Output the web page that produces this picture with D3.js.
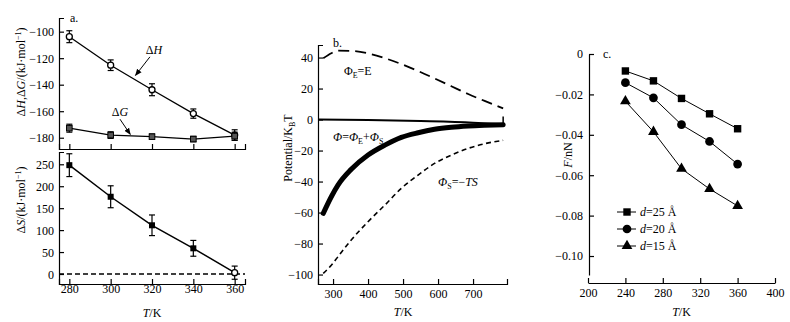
<!DOCTYPE html>
<html lang="en">
  <head>
    <meta charset="UTF-8" />
    <title>Thermodynamics panels</title>
    <style>
      body {
        margin: 0;
        padding: 0;
        background: #fff;
      }
      svg {
        display: block;
        font-family: 'Liberation Serif', 'Times New Roman', serif;
      }
      .axis path,
      .axis line {
        stroke: #000;
        stroke-width: 1.2;
      }
      .axis text {
        font-family: 'Liberation Serif', serif;
        font-size: 12px;
        fill: #000;
      }
      text {
        font-size: 12px;
        fill: #000;
      }
    </style>
  </head>

  <body>
    <script src="https://cdn.jsdelivr.net/npm/d3@7"></script>
    <script>
      // ---- panel a data ----
      const temps = [280, 300, 320, 340, 360];
      const dH = [-103.8, -125.3, -143.8, -161.8, -178];
      const dHErr = [4.5, 4, 4.5, 3.5, 4];
      const dG = [-172.8, -178, -179.2, -181, -178.8];
      const dGErr = [3, 2.5, 2, 2, 3];
      const dS = [248, 176, 111, 58.5, 3];
      const dSErr = [26, 25, 23.5, 18, 15];
      const aTopTicks = [-100, -120, -140, -160, -180];
      const aBotTicks = [0, 50, 100, 150, 200, 250];

      // ---- panel b data ----
      const phiT = [272, 295, 314, 352, 400, 448, 495, 543, 590, 638, 686, 733, 786];
      const phiE = [39.5, 42.8, 44.5, 44.3, 42.7, 39.6, 35.8, 31.3, 26.5, 21.5, 16.5, 12, 7.2];
      const phiTot = [-60.5, -49.8, -42.3, -32.1, -22.9, -16.5, -11.5, -8.5, -6.3, -5.0, -4.2, -3.7, -3.3];
      const phiS = [-99.2, -94, -88.5, -77.7, -65.9, -55.2, -44.4, -35.8, -28.3, -22.9, -18.6, -15.6, -13.4];
      const zeroT = [257, 400, 550, 700, 786];
      const zeroV = [0, -0.3, -1, -2, -3];
      const bYTicks = [40, 20, 0, -20, -40, -60, -80, -100];
      const bXTicks = [300, 400, 500, 600, 700];

      // ---- panel c data ----
      const cT = [240, 270, 300, 330, 360];
      const d25 = [-0.0084, -0.0133, -0.022, -0.0296, -0.037];
      const d20 = [-0.0142, -0.0217, -0.035, -0.0433, -0.0545];
      const d15 = [-0.0234, -0.0385, -0.0568, -0.0668, -0.0752];
      const cSeries = [
        { name: '25', values: d25, sym: d3.symbolSquare, size: 55 },
        { name: '20', values: d20, sym: d3.symbolCircle, size: 60 },
        { name: '15', values: d15, sym: d3.symbolTriangle, size: 50 },
      ];
      const cYTicks = [0, -0.02, -0.04, -0.06, -0.08, -0.1];
      const cXTicks = [200, 240, 280, 320, 360, 400];

      const width = 790;
      const height = 322;
      const svg = d3.select('body').append('svg').attr('width', width).attr('height', height);

      const tick = 5;

      // ================= panel a =================
      const ax = d3.scaleLinear().domain([275, 365]).range([59, 245]);
      const ayTop = d3.scaleLinear().domain([-188.5, -89.7]).range([149, 18]);
      const ayBot = d3.scaleLinear().domain([-22.8, 278]).range([284, 152]);

      svg.append('g').attr('class', 'axis').attr('transform', 'translate(0,149)')
        .call(d3.axisBottom(ax).tickValues(temps).tickSizeInner(-tick).tickSizeOuter(-tick).tickFormat(''));
      svg.append('g').attr('class', 'axis').attr('transform', 'translate(59,0)')
        .call(d3.axisLeft(ayTop).tickValues(aTopTicks).tickSizeInner(-tick).tickSizeOuter(-tick).tickPadding(5));
      svg.append('g').attr('class', 'axis').attr('transform', 'translate(0,284)')
        .call(d3.axisBottom(ax).tickValues(temps).tickSizeInner(-tick).tickSizeOuter(-tick).tickPadding(5));
      svg.append('g').attr('class', 'axis').attr('transform', 'translate(59,0)')
        .call(d3.axisLeft(ayBot).tickValues(aBotTicks).tickSizeInner(-tick).tickSizeOuter(-tick).tickPadding(5));
      svg.selectAll('.axis .tick text').attr('dy', '0.35em');

      function errorSeries(ys, vals, errs, markerFn, strokeW) {
        const g = svg.append('g');
        const line = d3.line().x((d, i) => ax(temps[i])).y((d) => ys(d));
        g.append('path').datum(vals).attr('d', line).attr('fill', 'none').attr('stroke', '#000').attr('stroke-width', strokeW);
        vals.forEach((v, i) => {
          const x = ax(temps[i]);
          g.append('line').attr('x1', x).attr('x2', x).attr('y1', ys(v - errs[i])).attr('y2', ys(v + errs[i]))
            .attr('stroke', '#000').attr('stroke-width', 1.2);
          [v - errs[i], v + errs[i]].forEach((e) => {
            g.append('line').attr('x1', x - 3).attr('x2', x + 3).attr('y1', ys(e)).attr('y2', ys(e))
              .attr('stroke', '#000').attr('stroke-width', 1.2);
          });
          markerFn(g, x, ys(v), i);
        });
      }

      errorSeries(ayTop, dH, dHErr, (g, x, y) => {
        g.append('circle').attr('cx', x).attr('cy', y).attr('r', 3).attr('fill', '#fff').attr('stroke', '#000').attr('stroke-width', 1.3);
      }, 1.3);
      errorSeries(ayTop, dG, dGErr, (g, x, y) => {
        g.append('rect').attr('x', x - 2.8).attr('y', y - 2.8).attr('width', 5.6).attr('height', 5.6)
          .attr('fill', '#555').attr('stroke', '#000').attr('stroke-width', 1);
      }, 1.3);

      // zero reference line in ΔS panel
      svg.append('line').attr('x1', ax(275)).attr('x2', ax(365)).attr('y1', ayBot(0)).attr('y2', ayBot(0))
        .attr('stroke', '#000').attr('stroke-width', 1.3).attr('stroke-dasharray', '5,3');
      errorSeries(ayBot, dS, dSErr, (g, x, y, i) => {
        if (i === dS.length - 1) {
          g.append('circle').attr('cx', x).attr('cy', y).attr('r', 3).attr('fill', '#fff').attr('stroke', '#000').attr('stroke-width', 1.3);
        } else {
          g.append('rect').attr('x', x - 3).attr('y', y - 3).attr('width', 6).attr('height', 6).attr('fill', '#000');
        }
      }, 1.5);

      // labels panel a
      svg.append('text').attr('x', 70).attr('y', 22).text('a.');
      const lblH = svg.append('text').attr('x', ax(317)).attr('y', ayTop(-116.5));
      lblH.append('tspan').text('Δ');
      lblH.append('tspan').attr('font-style', 'italic').text('H');
      const lblG = svg.append('text').attr('x', ax(300.5)).attr('y', ayTop(-163.5));
      lblG.append('tspan').text('Δ');
      lblG.append('tspan').attr('font-style', 'italic').text('G');

      const defs = svg.append('defs');
      defs.append('marker').attr('id', 'arr').attr('viewBox', '0 0 10 10').attr('refX', 9).attr('refY', 5)
        .attr('markerWidth', 7).attr('markerHeight', 7).attr('orient', 'auto')
        .append('path').attr('d', 'M0,1 L10,5 L0,9 Z').attr('fill', '#000');
      svg.append('line').attr('x1', ax(319)).attr('y1', ayTop(-119)).attr('x2', ax(312)).attr('y2', ayTop(-133))
        .attr('stroke', '#000').attr('stroke-width', 1).attr('marker-end', 'url(#arr)');
      svg.append('line').attr('x1', ax(304.5)).attr('y1', ayTop(-166)).attr('x2', ax(309.5)).attr('y2', ayTop(-177.5))
        .attr('stroke', '#000').attr('stroke-width', 1).attr('marker-end', 'url(#arr)');

      const yla = svg.append('text').attr('transform', 'translate(25,72) rotate(-90)').attr('text-anchor', 'middle');
      yla.append('tspan').text('Δ');
      yla.append('tspan').attr('font-style', 'italic').text('H');
      yla.append('tspan').text(',Δ');
      yla.append('tspan').attr('font-style', 'italic').text('G');
      yla.append('tspan').text('/(kJ·mol');
      yla.append('tspan').attr('dy', -4).attr('font-size', 8).text('−1');
      yla.append('tspan').attr('dy', 4).text(')');

      const ylb = svg.append('text').attr('transform', 'translate(25,200) rotate(-90)').attr('text-anchor', 'middle');
      ylb.append('tspan').text('Δ');
      ylb.append('tspan').attr('font-style', 'italic').text('S');
      ylb.append('tspan').text('/(kJ·mol');
      ylb.append('tspan').attr('dy', -4).attr('font-size', 8).text('−1');
      ylb.append('tspan').attr('dy', 4).text(')');

      const xla = svg.append('text').attr('x', ax(320)).attr('y', 317).attr('text-anchor', 'middle');
      xla.append('tspan').attr('font-style', 'italic').text('T');
      xla.append('tspan').text('/K');

      // ================= panel b =================
      const bx = d3.scaleLinear().domain([257, 797]).range([318, 507]);
      const by = d3.scaleLinear().domain([-106.1, 48.1]).range([284, 45]);

      svg.append('g').attr('class', 'axis').attr('transform', 'translate(0,284)')
        .call(d3.axisBottom(bx).tickValues(bXTicks).tickSizeInner(-tick).tickSizeOuter(-tick).tickPadding(5));
      svg.append('g').attr('class', 'axis').attr('transform', 'translate(318,0)')
        .call(d3.axisLeft(by).tickValues(bYTicks).tickSizeInner(-tick).tickSizeOuter(-tick).tickPadding(5));

      const bLine = (vals, ts) => d3.line().curve(d3.curveMonotoneX).x((d, i) => bx(ts[i])).y((d) => by(d))(vals);
      svg.append('path').attr('d', bLine(zeroV, zeroT)).attr('fill', 'none').attr('stroke', '#000').attr('stroke-width', 2);
      svg.append('path').attr('d', bLine(phiE, phiT)).attr('fill', 'none').attr('stroke', '#000').attr('stroke-width', 1.8)
        .attr('stroke-dasharray', '11,6');
      svg.append('path').attr('d', bLine(phiS, phiT)).attr('fill', 'none').attr('stroke', '#000').attr('stroke-width', 1.6)
        .attr('stroke-dasharray', '5,3.5');
      svg.append('path').attr('d', bLine(phiTot, phiT)).attr('fill', 'none').attr('stroke', '#000').attr('stroke-width', 5)
        .attr('stroke-linecap', 'round');
      // small vertical stop at the right end of the zero line
      svg.append('line').attr('x1', bx(786)).attr('x2', bx(786)).attr('y1', by(2)).attr('y2', by(-3.5))
        .attr('stroke', '#000').attr('stroke-width', 1.5);

      svg.append('text').attr('x', 333).attr('y', 47).text('b.');
      const lE = svg.append('text').attr('x', bx(331)).attr('y', by(28.5));
      lE.append('tspan').text('Φ');
      lE.append('tspan').attr('dy', 3).attr('font-size', 8).text('E');
      lE.append('tspan').attr('dy', -3).text('=E');
      const lT = svg.append('text').attr('x', bx(300)).attr('y', by(-14));
      lT.append('tspan').attr('font-style', 'italic').text('Φ');
      lT.append('tspan').text('=');
      lT.append('tspan').attr('font-style', 'italic').text('Φ');
      lT.append('tspan').attr('dy', 3).attr('font-size', 8).text('E');
      lT.append('tspan').attr('dy', -3).text('+');
      lT.append('tspan').attr('font-style', 'italic').text('Φ');
      lT.append('tspan').attr('dy', 3).attr('font-size', 8).text('S');
      const lS = svg.append('text').attr('x', bx(600)).attr('y', by(-43));
      lS.append('tspan').attr('font-style', 'italic').text('Φ');
      lS.append('tspan').attr('dy', 3).attr('font-size', 8).text('S');
      lS.append('tspan').attr('dy', -3).text('=−');
      lS.append('tspan').attr('font-style', 'italic').text('TS');

      const ylc = svg.append('text').attr('transform', 'translate(292,148) rotate(-90)').attr('text-anchor', 'middle');
      ylc.append('tspan').text('Potential/K');
      ylc.append('tspan').attr('dy', 3).attr('font-size', 8).text('B');
      ylc.append('tspan').attr('dy', -3).text('T');

      const xlb = svg.append('text').attr('x', bx(500)).attr('y', 316).attr('text-anchor', 'middle');
      xlb.append('tspan').attr('font-style', 'italic').text('T');
      xlb.append('tspan').text('/K');

      // ================= panel c =================
      const cx = d3.scaleLinear().domain([200, 400]).range([588, 775]);
      const cy = d3.scaleLinear().domain([-0.1094, 0]).range([275, 54]);
      const cFmt = (d) => (d === 0 ? '0' : d3.format('.2f')(d));

      svg.append('g').attr('class', 'axis').attr('transform', 'translate(0,283)')
        .call(d3.axisBottom(cx).tickValues(cXTicks).tickSizeInner(-tick).tickSizeOuter(0).tickPadding(5));
      svg.append('g').attr('class', 'axis').attr('transform', 'translate(589,0)')
        .call(d3.axisLeft(cy).tickValues(cYTicks).tickSizeInner(-tick).tickSizeOuter(0).tickPadding(6).tickFormat(cFmt));

      const cLine = d3.line().x((d, i) => cx(cT[i])).y((d) => cy(d));
      cSeries.forEach((s) => {
        const g = svg.append('g');
        g.append('path').datum(s.values).attr('d', cLine).attr('fill', 'none').attr('stroke', '#000').attr('stroke-width', 1);
        g.selectAll('path.pt').data(s.values).enter().append('path').attr('class', 'pt')
          .attr('transform', (d, i) => `translate(${cx(cT[i])},${cy(d)})`)
          .attr('d', d3.symbol().type(s.sym).size(s.size)).attr('fill', '#000');
      });

      // legend
      const leg = svg.append('g').attr('transform', 'translate(617,212)');
      cSeries.forEach((s, i) => {
        const row = leg.append('g').attr('transform', `translate(0,${i * 17})`);
        row.append('line').attr('x1', 0).attr('x2', 19).attr('y1', 0).attr('y2', 0).attr('stroke', '#000').attr('stroke-width', 1);
        row.append('path').attr('transform', 'translate(10,0)').attr('d', d3.symbol().type(s.sym).size(s.size)).attr('fill', '#000');
        const t = row.append('text').attr('x', 23).attr('y', 4);
        t.append('tspan').attr('font-style', 'italic').text('d');
        t.append('tspan').text(`=${s.name} Å`);
      });

      svg.append('text').attr('x', 603).attr('y', 58).text('c.');
      const yld = svg.append('text').attr('transform', 'translate(572,155) rotate(-90)').attr('text-anchor', 'middle');
      yld.append('tspan').attr('font-style', 'italic').text('F');
      yld.append('tspan').text('/nN');
      const xlc = svg.append('text').attr('x', cx(300)).attr('y', 316).attr('text-anchor', 'middle');
      xlc.append('tspan').attr('font-style', 'italic').text('T');
      xlc.append('tspan').text('/K');
    </script>
  </body>
</html>
